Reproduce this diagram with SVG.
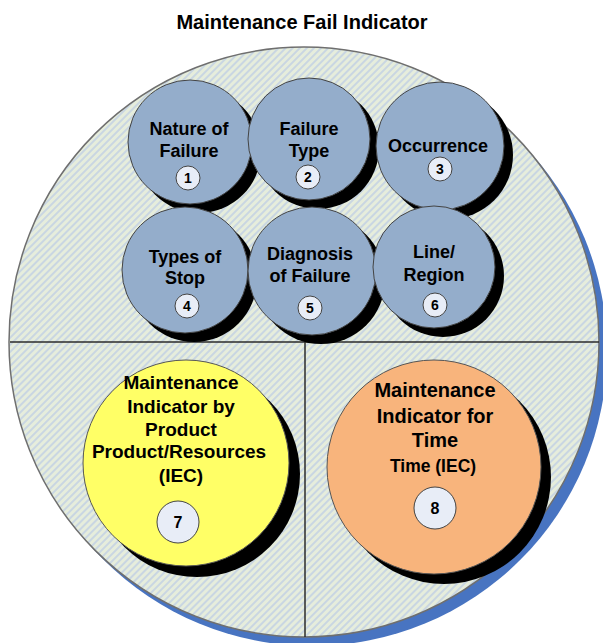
<svg xmlns="http://www.w3.org/2000/svg" width="603" height="643" viewBox="0 0 603 643">
<defs>
<pattern id="hatch" width="5" height="5" patternUnits="userSpaceOnUse" patternTransform="rotate(45)">
<rect width="5" height="5" fill="#e6eddc"/>
<rect x="0" y="0" width="2" height="5" fill="#c9d6e2"/>
</pattern>
<style>
.t{font-family:"Liberation Sans",Arial,sans-serif;font-weight:bold;fill:#000;text-anchor:middle}
.s{font-size:18px}
.b{font-size:19px}
.n{font-size:14px}
.nb{font-size:16px}
.sh{fill:#000}
.blue{fill:#94adcb;stroke:#444;stroke-width:1}
.badge{fill:#e8edf7;stroke:#444;stroke-width:1}
.sep{stroke:#2b2b2b;stroke-width:1.5;fill:none}
</style>
</defs>
<rect width="603" height="643" fill="#fff"/>
<text class="t" x="302" y="29" style="font-size:20px">Maintenance Fail Indicator</text>
<g id="outer">
<circle cx="312" cy="351" r="295" fill="#4874c1"/>
<circle cx="304" cy="342" r="295" fill="url(#hatch)" stroke="#6f6f6f" stroke-width="1.5"/>
</g>
<g id="connectors">
<line class="sep" x1="10" y1="342" x2="599" y2="342"/>
<line class="sep" x1="305" y1="342" x2="305" y2="637"/>
</g>
<g id="n1">
<circle class="sh" cx="199" cy="151" r="62"/>
<circle class="blue" cx="190" cy="142" r="62"/>
<text class="t s" x="189" y="135">Nature of</text>
<text class="t s" x="189" y="157">Failure</text>
<circle class="badge" cx="188" cy="178" r="12"/>
<text class="t n" x="188" y="183">1</text>
</g>
<g id="n2">
<circle class="sh" cx="318" cy="148" r="61"/>
<circle class="blue" cx="309" cy="139" r="61"/>
<text class="t s" x="309" y="135">Failure</text>
<text class="t s" x="309" y="157">Type</text>
<circle class="badge" cx="308" cy="177" r="12"/>
<text class="t n" x="308" y="182">2</text>
</g>
<g id="n3">
<circle class="sh" cx="449" cy="155" r="64"/>
<circle class="blue" cx="440" cy="146" r="64"/>
<text class="t s" x="438" y="152">Occurrence</text>
<circle class="badge" cx="440" cy="169" r="12"/>
<text class="t n" x="440" y="174">3</text>
</g>
<g id="n4">
<circle class="sh" cx="194" cy="279" r="63"/>
<circle class="blue" cx="185" cy="270" r="63"/>
<text class="t s" x="185" y="263">Types of</text>
<text class="t s" x="185" y="284">Stop</text>
<circle class="badge" cx="187" cy="306" r="12"/>
<text class="t n" x="187" y="311">4</text>
</g>
<g id="n5">
<circle class="sh" cx="321" cy="280" r="64"/>
<circle class="blue" cx="312" cy="271" r="64"/>
<text class="t s" x="310" y="260">Diagnosis</text>
<text class="t s" x="310" y="282">of Failure</text>
<circle class="badge" cx="310" cy="308" r="12"/>
<text class="t n" x="310" y="313">5</text>
</g>
<g id="n6">
<circle class="sh" cx="443" cy="276" r="61"/>
<circle class="blue" cx="434" cy="267" r="61"/>
<text class="t s" x="434" y="258">Line/</text>
<text class="t s" x="434" y="281">Region</text>
<circle class="badge" cx="435" cy="305" r="12"/>
<text class="t n" x="435" y="310">6</text>
</g>
<g id="n7">
<circle class="sh" cx="197" cy="474" r="103"/>
<circle cx="186" cy="463" r="103" fill="#ffff66" stroke="#555" stroke-width="1"/>
<text class="t b" x="181" y="389">Maintenance</text>
<text class="t b" x="181" y="413">Indicator by</text>
<text class="t b" x="181" y="436">Product</text>
<text class="t b" x="179" y="458">Product/Resources</text>
<text class="t b" x="181" y="482">(IEC)</text>
<circle class="badge" cx="178" cy="522" r="21"/>
<text class="t nb" x="178" y="528">7</text>
</g>
<g id="n8">
<circle class="sh" cx="444" cy="477" r="107"/>
<circle cx="434" cy="467" r="107" fill="#f8b47c" stroke="#555" stroke-width="1"/>
<text class="t" x="435" y="397" style="font-size:20px">Maintenance</text>
<text class="t" x="435" y="423" style="font-size:20px">Indicator for</text>
<text class="t" x="435" y="447" style="font-size:20px">Time</text>
<text class="t" x="433" y="472" style="font-size:17.5px">Time (IEC)</text>
<circle class="badge" cx="435" cy="508" r="21"/>
<text class="t nb" x="435" y="514">8</text>
</g>
</svg>
